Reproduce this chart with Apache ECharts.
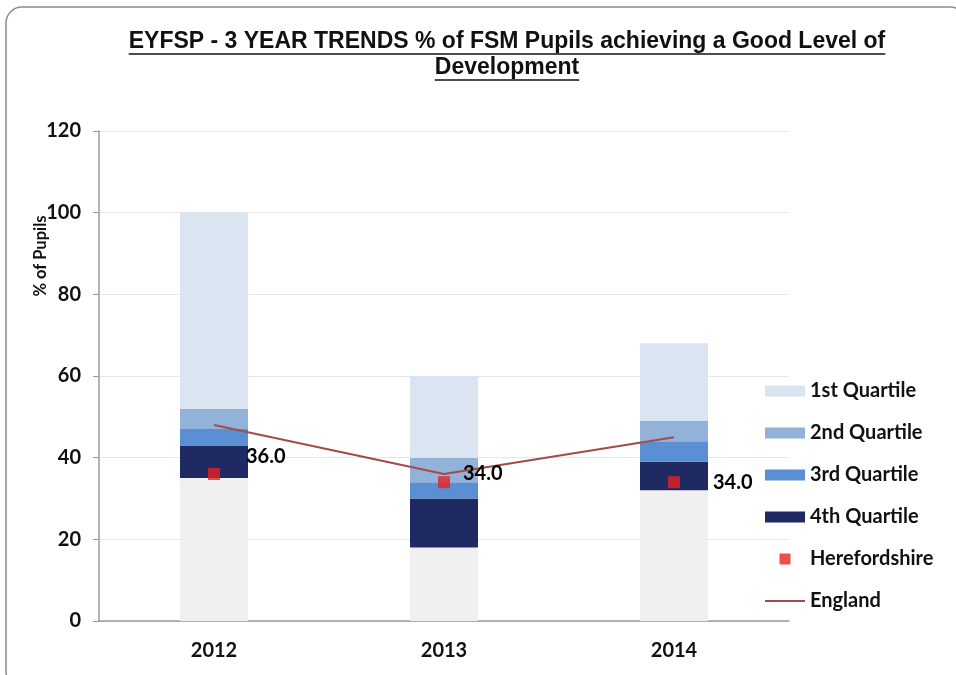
<!DOCTYPE html>
<html><head><meta charset="utf-8">
<script src="https://cdn.jsdelivr.net/npm/echarts@6/dist/echarts.min.js"></script>
<style>html,body{margin:0;padding:0;background:#fff}#c{width:956px;height:675px}</style>
</head><body><div id="c"></div>
<script>
const categories = ['2012', '2013', '2014'];
const baseVals = [35, 18, 32];
const q4 = [8, 12, 7];
const q3 = [4, 4, 5];
const q2 = [5, 6, 5];
const q1 = [48, 20, 19];
const herefordshire = [36.0, 34.0, 34.0];
const england = [48, 36, 45];
const yTicks = [0, 20, 40, 60, 80, 100, 120];
const labelOffsets = [[21, -17], [8, -9], [28, 0]];

const titleLine1 = 'EYFSP - 3 YEAR TRENDS % of FSM Pupils achieving a Good Level of';
const titleLine2 = 'Development';
const titleFont = 'bold 23px "Liberation Sans", Arial';
function tw(t){const c=document.createElement('canvas').getContext('2d');c.font=titleFont;return c.measureText(t).width;}
const cx = 507, w1 = tw(titleLine1), w2 = tw(titleLine2);

const chart = echarts.init(document.getElementById('c'));
const legFont = {fontFamily:'Lato', fontWeight:'bold', fontSize:20, color:'#111'};
const barCommon = {type:'bar', stack:'s', barWidth:68, emphasis:{disabled:true}};
chart.setOption({
  animation:false,
  backgroundColor:'#fff',
  graphic:[
    {type:'rect', shape:{x:6,y:7,width:960,height:680,r:16}, style:{fill:'none', stroke:'#8c8c8c', lineWidth:1.5}, z:-1},
    {type:'text', style:{text:titleLine1, font:titleFont, fill:'#111', x:cx, y:42, align:'center', verticalAlign:'middle'}},
    {type:'text', style:{text:titleLine2, font:titleFont, fill:'#111', x:cx, y:68, align:'center', verticalAlign:'middle'}},
    {type:'line', shape:{x1:cx-w1/2, y1:54, x2:cx+w1/2, y2:54}, style:{stroke:'#111', lineWidth:1.5}},
    {type:'line', shape:{x1:cx-w2/2, y1:80, x2:cx+w2/2, y2:80}, style:{stroke:'#111', lineWidth:1.5}},
    {type:'text', x:41, y:256, rotation:Math.PI/2,
      style:{text:'% of Pupils', font:'bold 16.5px Lato', fill:'#111', align:'center', verticalAlign:'middle'}}
  ],
  grid:{left:99, right:167, top:131, bottom:54},
  legend:{
    orient:'vertical', left:760, top:376, itemGap:22, itemWidth:40, itemHeight:11,
    textStyle:legFont, selectedMode:false,
    data:[
      {name:'1st Quartile', icon:'rect'},
      {name:'2nd Quartile', icon:'rect'},
      {name:'3rd Quartile', icon:'rect'},
      {name:'4th Quartile', icon:'rect'},
      {name:'Herefordshire', icon:'path://M0,0h12v12h-12z'},
      {name:'England', icon:'path://M0,0h40v2h-40z'}
    ]
  },
  xAxis:{
    type:'category', data:categories,
    axisLine:{lineStyle:{color:'#9a9a9a', width:1.5}},
    axisTick:{show:false},
    axisLabel:{fontFamily:'Lato', fontWeight:'bold', fontSize:20, color:'#111', margin:20}
  },
  yAxis:{
    type:'value', min:0, max:120, interval:20,
    axisLine:{show:true, lineStyle:{color:'#9a9a9a', width:1.5}},
    axisTick:{show:true, length:6, lineStyle:{color:'#9a9a9a'}},
    axisLabel:{fontFamily:'Lato', fontWeight:'bold', fontSize:20, color:'#111', margin:18,
      formatter:v=>yTicks.includes(v)?String(v):''},
    splitLine:{lineStyle:{color:'#e6e6e6', width:1}}
  },
  series:[
    Object.assign({name:'base', data:baseVals, itemStyle:{color:'#f0f0f0'}}, barCommon),
    Object.assign({name:'4th Quartile', data:q4, itemStyle:{color:'#1f2a63'}}, barCommon),
    Object.assign({name:'3rd Quartile', data:q3, itemStyle:{color:'#5a8fd3'}}, barCommon),
    Object.assign({name:'2nd Quartile', data:q2, itemStyle:{color:'#93b2da'}}, barCommon),
    Object.assign({name:'1st Quartile', data:q1, itemStyle:{color:'#dbe4f1'}}, barCommon),
    {name:'England', type:'line', data:england, symbol:'none', showSymbol:false, z:5,
      lineStyle:{color:'#a44a4a', width:2}, itemStyle:{color:'#a44a4a'}},
    {name:'Herefordshire', type:'scatter', symbol:'rect', symbolSize:12, z:6,
      itemStyle:{color:'#e8201f'},
      data:herefordshire.map((v,i)=>({value:v, label:{offset:labelOffsets[i]}})),
      label:{show:true, position:'right', formatter:p=>p.value.toFixed(1),
        fontFamily:'Lato', fontWeight:'bold', fontSize:20, color:'#000', opacity:1, textBorderWidth:0}}
  ]
});
</script></body></html>
